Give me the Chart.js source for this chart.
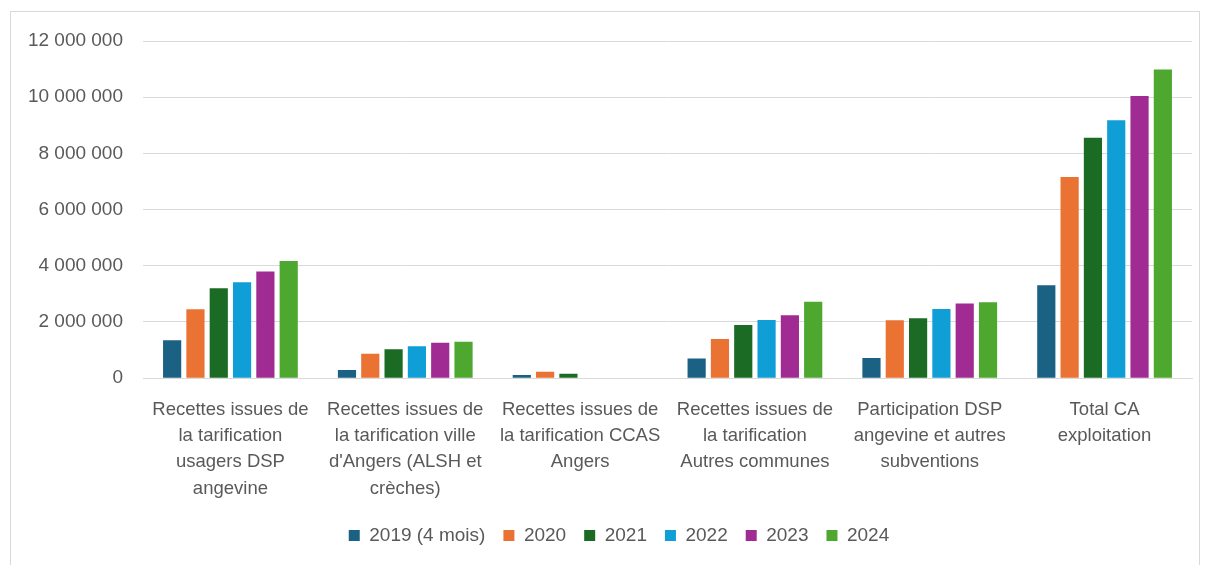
<!DOCTYPE html>
<html><head><meta charset="utf-8">
<script src="https://cdn.jsdelivr.net/npm/chart.js@4/dist/chart.umd.min.js"></script>
<style>
html,body{margin:0;padding:0;background:#fff;}
#wrap{position:absolute;left:0;top:0;width:1208px;height:565px;}
#frame{position:absolute;left:10px;top:11px;width:1190px;height:560px;border:1px solid #d9d9d9;box-sizing:border-box;}
canvas{position:absolute;left:0;top:0;}
</style></head>
<body>
<div id="wrap"><div id="frame"></div><canvas id="c" width="1208" height="565"></canvas></div>
<script>
const categories = [
  ["Recettes issues de","la tarification","usagers DSP","angevine"],
  ["Recettes issues de","la tarification ville","d'Angers (ALSH et","crèches)"],
  ["Recettes issues de","la tarification CCAS","Angers"],
  ["Recettes issues de","la tarification","Autres communes"],
  ["Participation DSP","angevine et autres","subventions"],
  ["Total CA","exploitation"]
];
const seriesNames = ["2019 (4 mois)","2020","2021","2022","2023","2024"];
const v2019 = [1350000, 290000, 110000, 700000, 720000, 3310000];
const v2020 = [2450000, 870000, 230000, 1390000, 2060000, 7160000];
const v2021 = [3200000, 1030000, 160000, 1890000, 2130000, 8560000];
const v2022 = [3410000, 1140000, 0, 2070000, 2460000, 9180000];
const v2023 = [3800000, 1260000, 0, 2240000, 2660000, 10040000];
const v2024 = [4170000, 1300000, 0, 2720000, 2700000, 10990000];
const yTicks = [0, 2000000, 4000000, 6000000, 8000000, 10000000, 12000000];
const colors = ["#1a6184","#ea7232","#1b6b24","#0f9ed6","#a02b93","#4ea72e"];
const values = [v2019, v2020, v2021, v2022, v2023, v2024];

const fmt = n => String(n).replace(/\B(?=(\d{3})+(?!\d))/g, " ");
const FONT = "'Liberation Sans', Arial, sans-serif";

const shiftLegend = {
  id: 'shiftLegend',
  afterLayout(chart) {
    if (chart.legend) { chart.legend.left += 18; chart.legend.right += 18; }
  }
};

new Chart(document.getElementById('c'), {
  type: 'bar',
  data: {
    labels: categories,
    datasets: seriesNames.map((n,i)=>({
      label: n, data: values[i], backgroundColor: colors[i],
      categoryPercentage: 0.8, barPercentage: 0.78
    }))
  },
  plugins: [shiftLegend],
  options: {
    responsive: false, animation: false,
    layout: { padding: { left: 10, right: 16, top: 41, bottom: 10 } },
    plugins: {
      tooltip: { enabled: false },
      legend: {
        position: 'bottom',
        labels: { font: { family: FONT, size: 19 }, color: '#595959', boxWidth: 11, boxHeight: 11, padding: 18 }
      }
    },
    scales: {
      x: {
        afterFit: s => { s.height -= 12; },
        grid: { display: false, drawTicks: false },
        border: { display: true, color: '#d9d9d9', width: 1 },
        ticks: { font: { family: FONT, size: 18.5, lineHeight: 1.43 }, color: '#595959', padding: 18, maxRotation: 0, autoSkip: false }
      },
      y: {
        min: 0, max: 12000000,
        afterFit: s => { s.width = 133; },
        afterBuildTicks: s => { s.ticks = yTicks.map(v => ({ value: v })); },
        grid: { color: '#d9d9d9', lineWidth: 1, drawTicks: false },
        border: { display: false },
        ticks: { font: { family: FONT, size: 19 }, color: '#595959', padding: 20, callback: v => fmt(v) }
      }
    }
  }
});
</script>
</body></html>
